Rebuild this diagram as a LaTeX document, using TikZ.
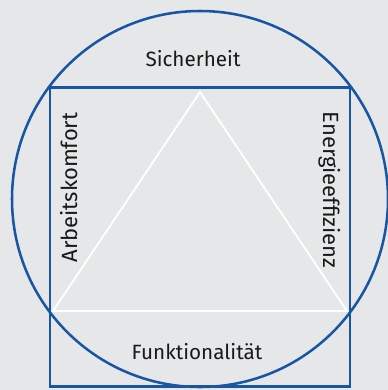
\documentclass[tikz,border=0pt]{standalone}
\usepackage{fontspec}
\setmainfont{Fira Sans}
\usetikzlibrary{positioning}

\definecolor{rahmenblau}{RGB}{24,86,164}
\definecolor{grund}{RGB}{230,231,232}

\begin{document}
\begin{tikzpicture}[x = 0.75pt, y = -0.75pt, font = \fontsize{15.5}{18}\selectfont,
	linie/.style = {rahmenblau, line width = 1.9pt},
	label/.style = {inner sep = 0pt, anchor = base, text = black!90},
	hochlabel/.style = {label, font = \fontsize{16.5}{19}\selectfont}]

	% Definitions

	\def\cx{200}		% centre of the circle
	\def\cy{199}
	\def\r{188}			% radius

	% Background

	\fill [grund] (0, 0) rectangle (388, 390);
	\useasboundingbox (0, 0) rectangle (388, 390);

	% Triangle

	\draw [white, line width = 1.4pt, line join = miter]
		(200, 92) -- (53, 311) -- (347, 311) -- cycle;

	% Square + circle

	\draw [linie] (50, 87.5) rectangle (350, 386.5);
	\draw [linie] (\cx, \cy) circle (\r);

	% Labels

	\node [label] (sicher) at (193, 66) {Sicherheit};
	\node [label] (funktion) at (197, 359) {Funktionalität};
	\node [hochlabel, rotate = 90] (arbeit) at (77, 187.5) {Arbeitskomfort};
	\node [hochlabel, rotate = -90] (energie) at (323, 190) {Energieeffizienz};

\end{tikzpicture}
\end{document}
